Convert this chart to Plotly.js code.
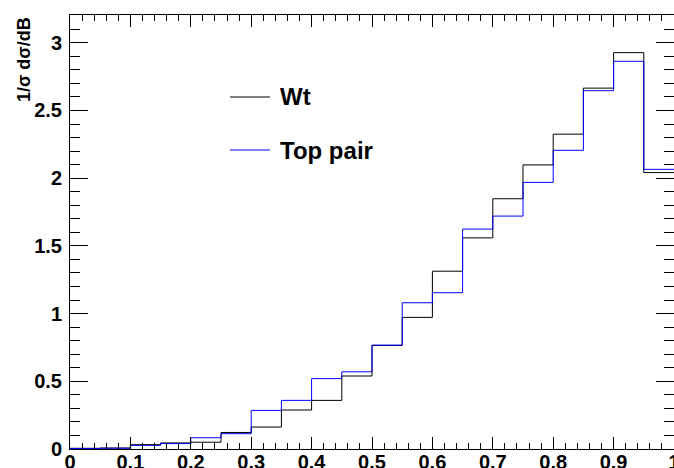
<!DOCTYPE html>
<html>
<head>
<meta charset="utf-8">
<script src="https://cdn.plot.ly/plotly-3.0.1.min.js"></script>
<style>
  html, body { margin: 0; padding: 0; background: #fff; }
  #chart { width: 674px; height: 468px; }
</style>
</head>
<body>
<div id="chart"></div>
<script>
// Bin low edges (bin width 0.05, range 0..1)
const binLow = [0.00, 0.05, 0.10, 0.15, 0.20, 0.25, 0.30, 0.35, 0.40, 0.45,
                0.50, 0.55, 0.60, 0.65, 0.70, 0.75, 0.80, 0.85, 0.90, 0.95];
const binWidth = 0.05;

// Normalised distributions 1/sigma dsigma/dB
const wtValues = [0.005, 0.007, 0.032, 0.045, 0.050, 0.122, 0.162, 0.288, 0.359, 0.539,
                  0.765, 0.972, 1.313, 1.559, 1.848, 2.098, 2.325, 2.665, 2.927, 2.041];
const topPairValues = [0.004, 0.006, 0.027, 0.040, 0.083, 0.113, 0.285, 0.359, 0.520, 0.570,
                       0.767, 1.080, 1.154, 1.624, 1.720, 1.969, 2.206, 2.646, 2.863, 2.065];

const seriesNames = ["Wt", "Top pair"];
const yTitle = "1/\u03c3 d\u03c3/dB";

function stepX(lows) {
  return lows.concat([lows[lows.length - 1] + binWidth]);
}
function stepY(vals) {
  return vals.concat([vals[vals.length - 1]]);
}

const FONT = "Liberation Sans, Arial, Helvetica, sans-serif";

const traces = [
  {
    x: stepX(binLow), y: stepY(wtValues), type: "scatter", mode: "lines",
    line: { shape: "hv", color: "#000000", width: 1 }, name: seriesNames[0],
    hoverinfo: "skip"
  },
  {
    x: stepX(binLow), y: stepY(topPairValues), type: "scatter", mode: "lines",
    line: { shape: "hv", color: "#0000ff", width: 1 }, name: seriesNames[1],
    hoverinfo: "skip"
  }
];

const W = 674, H = 468;
const mL = 70, mR = 0, mT = 15, mB = 19;
const pw = W - mL - mR, ph = H - mT - mB;
function px2paperX(p) { return (p - mL) / pw; }
function px2paperY(p) { return (H - mB - p) / ph; }

const legendRows = [97, 150];

const layout = {
  width: W, height: H,
  margin: { l: mL, r: mR, t: mT, b: mB, pad: 0, autoexpand: false },
  paper_bgcolor: "#ffffff", plot_bgcolor: "#ffffff",
  showlegend: false,
  font: { family: FONT, color: "#000000" },
  xaxis: {
    range: [0, 1], tick0: 0, dtick: 0.1, tickmode: "linear",
    ticks: "inside", ticklen: 12, tickwidth: 1, tickcolor: "#000000",
    minor: { dtick: 0.02, tick0: 0, ticks: "inside", ticklen: 6, tickwidth: 1, tickcolor: "#000000" },
    showline: true, linecolor: "#000000", linewidth: 1, mirror: "allticks",
    showgrid: false, zeroline: false,
    tickfont: { family: FONT, size: 20, weight: "bold", color: "#000000" },
    ticklabelstandoff: -5, ticklabeloverflow: "allow", automargin: false
  },
  yaxis: {
    range: [0, 3.205], tick0: 0, dtick: 0.5, tickmode: "linear",
    ticks: "inside", ticklen: 18, tickwidth: 1, tickcolor: "#000000",
    minor: { dtick: 0.1, tick0: 0, ticks: "inside", ticklen: 10, tickwidth: 1, tickcolor: "#000000" },
    showline: true, linecolor: "#000000", linewidth: 1, mirror: "allticks",
    showgrid: false, zeroline: false,
    tickfont: { family: FONT, size: 20, weight: "bold", color: "#000000" },
    ticklabelstandoff: 3, automargin: false
  },
  shapes: [
    { type: "line", xref: "paper", yref: "paper",
      x0: px2paperX(230), x1: px2paperX(270), y0: px2paperY(legendRows[0]), y1: px2paperY(legendRows[0]),
      line: { color: "#000000", width: 1 } },
    { type: "line", xref: "paper", yref: "paper",
      x0: px2paperX(230), x1: px2paperX(270), y0: px2paperY(legendRows[1]), y1: px2paperY(legendRows[1]),
      line: { color: "#0000ff", width: 1 } }
  ],
  annotations: [
    { text: seriesNames[0], xref: "paper", yref: "paper", x: px2paperX(278), y: px2paperY(legendRows[0]),
      xanchor: "left", yanchor: "middle", showarrow: false,
      font: { family: FONT, size: 24, weight: "bold", color: "#000000" } },
    { text: seriesNames[1], xref: "paper", yref: "paper", x: px2paperX(278), y: px2paperY(legendRows[1]),
      xanchor: "left", yanchor: "middle", showarrow: false,
      font: { family: FONT, size: 24, weight: "bold", color: "#000000" } },
    { text: yTitle, xref: "paper", yref: "paper", x: px2paperX(24), y: px2paperY(60),
      xanchor: "center", yanchor: "middle", textangle: -90, showarrow: false,
      font: { family: FONT, size: 18, weight: "bold", color: "#000000" } }
  ]
};

Plotly.newPlot("chart", traces, layout, { displayModeBar: false, staticPlot: true });
</script>
</body>
</html>
